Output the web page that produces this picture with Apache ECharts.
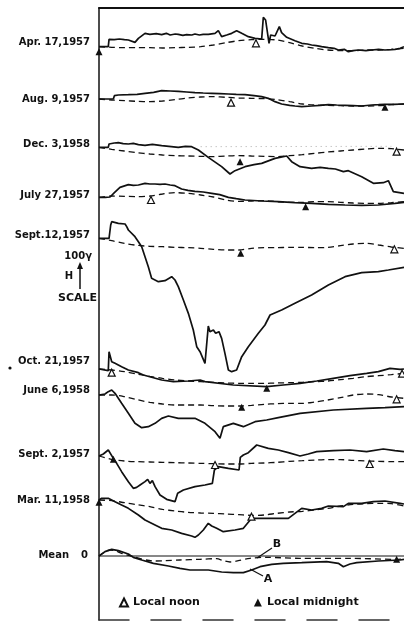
<!DOCTYPE html>
<html>
<head>
<meta charset="utf-8">
<script src="https://cdn.jsdelivr.net/npm/echarts@6/dist/echarts.min.js"></script>
<style>
html,body{margin:0;padding:0;background:#fff;}
#chart{width:404px;height:622px;}
</style>
</head>
<body>
<div id="chart"></div>
<script>
// time in hours from start of record, H in gamma (deviation from the start level of each day)
const hourly = [0,1,2,3,4,5,6,7,8,9,10,11,12,13,14,15,16,17,18,19,20,21,22,23,24];

const dayNames = ['Apr. 17,1957','Aug. 9,1957','Dec. 3,1958','July 27,1957','Sept.12,1957',
                  'Oct. 21,1957','June 6,1958','Sept. 2,1957','Mar. 11,1958','Mean'];
// where each day's zero sits on the stacked H axis (gamma)
const dayOffsets = [-140,-297,-442,-592,-715,-1107,-1185,-1368,-1500,-1668];

// storm day traces (solid)
const apr17T = [0,0.73,0.79,1.2,1.6,2.0,2.31,2.83,3.1,3.62,4.0,4.5,4.93,5.3,5.6,6.0,6.24,6.6,6.9,7.3,7.55,7.9,8.2,8.6,9.13,9.39,9.65,10.05,10.44,10.83,11.23,11.75,12.28,12.8,12.93,13.11,13.25,13.38,13.51,13.85,14.19,14.37,14.77,15.42,15.95,16.4,16.73,17.1,17.52,18.05,18.5,18.83,19.3,19.62,20.0,20.41,21.0,21.46,22.0,22.5,23.0,23.29,23.7,24];
const apr17H = [0,0,22,21,23,21,20,13,25,40,37,39,36,40,35,38,37,34,36,35,38,35,37,37,40,48,30,35,40,48,40,30,25,23,88,80,75,10,35,32,60,42,28,18,10,8,5,3,0,-3,-5,-10,-8,-15,-12,-10,-12,-10,-8,-10,-9,-8,-5,0];
const aug9T = [0,1.13,1.21,1.52,2.31,3.0,3.62,4.3,4.93,5.6,6.24,6.9,7.55,8.2,8.87,9.5,10.18,10.8,11.49,12.2,12.8,13.32,13.85,14.37,15.0,15.42,15.95,16.73,17.4,18.05,18.7,19.36,20.0,20.67,21.46,22.0,22.5,23.2,24];
const aug9H = [0,0,10,12,13,14,17,20,25,24,23,21,19,18,17,16,15,14,13,10,7,2,-8,-15,-19,-21,-23,-21,-19,-17,-18,-19,-20,-21,-18,-17,-16,-16,-15];
const dec3T = [0,0.73,0.79,1.2,1.52,1.9,2.31,2.7,3.1,3.62,4.2,4.93,5.5,6.24,6.8,7.29,7.82,8.6,9.65,10.31,10.7,11.49,12.2,12.8,13.85,14.77,15.16,15.82,16.73,17.4,18.05,18.6,19.23,19.62,20.67,21.59,22.37,22.77,23.16,24];
const dec3H = [0,0,10,13,14,11,10,12,8,6,9,5,3,0,3,2,-8,-30,-58,-80,-70,-58,-52,-48,-33,-26,-43,-58,-63,-60,-63,-65,-73,-70,-88,-108,-106,-100,-133,-138];
const jul27T = [0,0.5,0.87,1.21,1.65,2.31,2.7,3.1,3.62,4.0,4.41,4.8,5.19,5.6,5.98,6.5,7.0,7.55,8.2,8.87,9.5,10.18,10.8,11.49,12.8,14.11,15.42,16.73,18.05,19.36,20.67,21.98,23.29,24];
const jul27H = [0,0,1,14,30,38,36,37,42,40,40,39,40,37,35,25,21,18,16,12,8,0,-4,-8,-11,-13,-16,-18,-21,-23,-24,-23,-18,-15];
const sep12T = [0,0.79,0.92,1.0,1.52,2.05,2.18,2.31,2.83,3.1,3.36,3.62,3.88,4.14,4.67,5.19,5.72,5.98,6.24,6.64,7.03,7.42,7.69,7.95,8.34,8.6,8.73,9.0,9.18,9.44,9.65,9.91,10.18,10.44,10.83,11.23,11.75,12.54,13.06,13.46,14.37,15.42,16.73,18.05,19.36,20.67,21.98,22.77,24];
const sep12H = [0,0,40,50,45,43,35,25,5,-10,-25,-55,-85,-120,-130,-127,-115,-125,-145,-185,-225,-275,-325,-340,-375,-263,-280,-275,-285,-280,-300,-345,-395,-400,-395,-355,-325,-285,-260,-230,-215,-195,-170,-140,-115,-103,-100,-95,-87];
const oct21T = [0,0.73,0.79,0.89,1.0,1.13,1.26,1.52,1.78,2.31,3.1,3.49,4.93,5.85,7.03,7.95,8.34,10.57,13.19,14.5,15.82,17.13,18.44,19.75,21.06,21.98,22.9,23.69,24];
const oct21H = [0,-5,52,47,22,27,17,12,7,-3,-11,-18,-33,-38,-36,-33,-38,-48,-53,-48,-43,-36,-28,-20,-13,-8,2,-1,0];
const jun6T = [0,0.47,0.73,1.0,1.26,1.78,2.31,2.83,3.36,3.88,4.41,4.93,5.46,6.24,7.55,8.34,9.13,9.52,9.78,10.57,11.36,12.28,13.19,14.11,15.82,18.44,21.06,22.5,24];
const jun6H = [0,3,10,15,5,-25,-55,-85,-98,-95,-85,-70,-63,-70,-70,-85,-110,-130,-95,-85,-95,-80,-75,-68,-55,-45,-40,-38,-35];
const sep2T = [0,0.34,0.73,0.87,1.13,1.39,1.78,2.31,2.7,2.96,3.23,3.62,3.83,4.01,4.2,4.41,4.8,5.32,5.98,6.19,6.64,7.55,8.34,8.92,9.08,9.39,10.18,11.02,11.12,11.36,11.75,12.41,13.32,14.11,14.9,15.82,16.47,17.13,18.44,19.75,21.06,22.37,23.29,24];
const sep2H = [0,6,18,13,-7,-22,-47,-77,-97,-94,-87,-77,-70,-82,-74,-92,-117,-130,-137,-112,-102,-92,-87,-82,-42,-32,-37,-42,-4,3,10,33,23,18,10,0,6,13,16,18,13,21,16,13];
const mar11T = [0,0.21,0.73,1.26,1.78,2.31,3.1,3.62,4.41,4.93,5.72,6.5,7.29,7.55,7.82,8.21,8.6,8.87,9.26,9.78,10.7,11.36,12.01,13.32,14.9,15.42,15.95,16.73,17.52,18.05,19.23,19.62,20.67,21.59,22.5,23.69,24];
const mar11H = [0,5,5,-5,-15,-25,-45,-60,-75,-85,-90,-100,-108,-112,-105,-90,-70,-78,-85,-95,-90,-85,-55,-55,-55,-40,-25,-30,-25,-18,-20,-10,-10,-5,-3,-10,-12];

// quiet day curves (dashed), hourly
const apr17Quiet = [0,-2,-3,-3,-3,-4,-3,-2,0,5,12,18,21,22,20,12,2,-5,-10,-12,-12,-10,-10,-8,-5];
const aug9Quiet  = [0,-3,-5,-7,-8,-6,-2,3,6,7,5,3,2,1,-2,-8,-15,-18,-19,-20,-21,-21,-20,-17,-15];
const dec3Quiet  = [0,-6,-11,-16,-20,-23,-25,-26,-27,-28,-26,-25,-26,-27,-28,-25,-22,-18,-14,-11,-8,-5,-3,-4,-8];
const jul27Quiet = [0,4,3,2,4,10,14,12,7,1,-8,-12,-11,-10,-13,-15,-15,-13,-13,-15,-17,-18,-18,-16,-13];
const sep12Quiet = [0,-7,-15,-21,-24,-25,-27,-28,-30,-33,-35,-35,-30,-28,-28,-27,-27,-28,-27,-22,-17,-15,-20,-26,-30];
const oct21Quiet = [0,-3,-8,-15,-22,-28,-33,-36,-38,-40,-42,-43,-43,-43,-42,-41,-40,-38,-36,-32,-28,-23,-20,-17,-13];
const jun6Quiet  = [0,0,-5,-14,-22,-27,-30,-30,-30,-32,-33,-33,-31,-28,-26,-25,-25,-21,-15,-8,0,3,1,-6,-10];
const sep2Quiet  = [0,-10,-15,-17,-18,-19,-20,-21,-22,-23,-24,-24,-22,-21,-19,-16,-14,-12,-11,-11,-13,-15,-16,-17,-17];
const mar11Quiet = [0,-2,-8,-14,-20,-28,-33,-37,-39,-40,-42,-44,-46,-45,-40,-36,-34,-30,-25,-18,-13,-11,-10,-11,-18];

// faint dotted trace above Dec. 3
const dec3DotT = [8,23];
const dec3DotH = [2,3];

// mean curves
const meanAT = [0,0.47,1.0,1.52,2.31,2.7,3.36,4.28,5.46,6.37,7.16,8.6,9.65,10.57,11.36,12.01,12.67,13.59,14.5,15.95,17.91,18.83,19.23,19.75,20.28,21.98,23.69,24];
const meanAH = [0,13,20,16,6,-4,-12,-22,-30,-37,-42,-42,-48,-50,-50,-42,-32,-25,-22,-20,-17,-22,-32,-24,-20,-15,-12,-10];
const meanBT = [0,0.47,0.87,1.26,1.78,2.7,4.28,5.19,6.37,7.95,9.26,9.78,10.31,10.96,11.88,13.19,15.82,19.75,23.42,24];
const meanBH = [0,12,18,16,8,-2,-15,-14,-12,-10,-8,-14,-18,-14,-7,-4,-7,-7,-10,-8];

// local noon / local midnight markers: hour, day index, H
const noonHours = [12.35,10.39,23.42,4.09,23.24,1.0,23.85,23.42,9.13,21.3,12.0];
const noonDay   = [0,1,2,3,4,5,5,6,7,7,8];
const noonH     = [10,-11,-13,-8,-33,-11,-14,-13,-27,-24,-50];
const midHours  = [0,22.5,11.1,16.26,11.15,13.2,11.23,1.13,0,23.42];
const midDay    = [0,1,2,3,4,5,6,7,8,9];
const midH      = [-15,-25,-43,-28,-45,-58,-37,-10,-7,-10];

const ink = '#111';
const pts = (t, h, off) => t.map((x, i) => [x, off + h[i]]);

const storms = [
  [apr17T, apr17H, apr17Quiet],
  [aug9T, aug9H, aug9Quiet],
  [dec3T, dec3H, dec3Quiet],
  [jul27T, jul27H, jul27Quiet],
  [sep12T, sep12H, sep12Quiet],
  [oct21T, oct21H, oct21Quiet],
  [jun6T, jun6H, jun6Quiet],
  [sep2T, sep2H, sep2Quiet],
  [mar11T, mar11H, mar11Quiet]
];

const series = [];
storms.forEach((s, i) => {
  series.push({
    type: 'line', data: pts(s[0], s[1], dayOffsets[i]), showSymbol: false,
    lineStyle: { color: ink, width: 1.7 }, silent: true
  });
  series.push({
    type: 'line', data: pts(hourly, s[2], dayOffsets[i]), showSymbol: false, smooth: 0.3,
    lineStyle: { color: ink, width: 1.3, type: [6, 4] }, silent: true
  });
});
series.push({
  type: 'line', data: pts(dec3DotT, dec3DotH, dayOffsets[2]), showSymbol: false,
  lineStyle: { color: '#aaa', width: 1, type: [1, 4] }, silent: true
});
// mean: zero line, A (solid), B (dashed)
series.push({
  type: 'line', data: pts([0, 24], [0, 0], dayOffsets[9]), showSymbol: false,
  lineStyle: { color: ink, width: 1 }, silent: true
});
series.push({
  type: 'line', data: pts(meanAT, meanAH, dayOffsets[9]), showSymbol: false,
  lineStyle: { color: ink, width: 1.7 }, silent: true
});
series.push({
  type: 'line', data: pts(meanBT, meanBH, dayOffsets[9]), showSymbol: false, smooth: 0.3,
  lineStyle: { color: ink, width: 1.3, type: [6, 4] }, silent: true
});
series.push({
  name: 'Local noon', type: 'scatter', symbol: 'triangle', symbolSize: 7, clip: false, z: 5,
  itemStyle: { color: '#fff', borderColor: ink, borderWidth: 1.2, opacity: 1 },
  data: noonHours.map((x, i) => [x, dayOffsets[noonDay[i]] + noonH[i]])
});
series.push({
  name: 'Local midnight', type: 'scatter', symbol: 'triangle', symbolSize: 7, clip: false, z: 5,
  itemStyle: { color: ink, opacity: 1 },
  data: midHours.map((x, i) => [x, dayOffsets[midDay[i]] + midH[i]])
});

const labelFont = 'bold 10px "DejaVu Sans"';
const labelY = [42, 99, 144, 195.5, 235, 361.5, 390, 454, 500.5];
const graphic = dayNames.slice(0, 9).map((n, i) => ({
  type: 'text', x: 90, y: labelY[i],
  style: { text: n, font: labelFont, fill: ink, align: 'right', verticalAlign: 'middle' }
}));
graphic.push(
  { type: 'text', x: 69, y: 555.5, style: { text: 'Mean', font: labelFont, fill: ink, align: 'right', verticalAlign: 'middle' } },
  { type: 'text', x: 88, y: 555.5, style: { text: '0', font: labelFont, fill: ink, align: 'right', verticalAlign: 'middle' } },
  { type: 'text', x: 92, y: 256, style: { text: '100γ', font: labelFont, fill: ink, align: 'right', verticalAlign: 'middle' } },
  { type: 'text', x: 73, y: 276, style: { text: 'H', font: labelFont, fill: ink, align: 'right', verticalAlign: 'middle' } },
  { type: 'text', x: 97, y: 298, style: { text: 'SCALE', font: 'bold 11px "DejaVu Sans"', fill: ink, align: 'right', verticalAlign: 'middle' } },
  { type: 'line', shape: { x1: 80, y1: 289, x2: 80, y2: 267 }, style: { stroke: ink, lineWidth: 1.5 } },
  { type: 'polygon', shape: { points: [[80, 262], [77, 269], [83, 269]] }, style: { fill: ink } },
  { type: 'circle', shape: { cx: 10, cy: 368, r: 1.6 }, style: { fill: ink } },
  { type: 'text', x: 268, y: 579, style: { text: 'A', font: 'bold 11px "DejaVu Sans"', fill: ink, align: 'center', verticalAlign: 'middle' } },
  { type: 'text', x: 277, y: 544, style: { text: 'B', font: 'bold 11px "DejaVu Sans"', fill: ink, align: 'center', verticalAlign: 'middle' } },
  { type: 'polyline', shape: { points: [[263, 576], [250, 569]] }, style: { stroke: ink, lineWidth: 1.2 } },
  { type: 'polyline', shape: { points: [[272, 548], [257, 558]] }, style: { stroke: ink, lineWidth: 1.2 } }
);

const chart = echarts.init(document.getElementById('chart'));
chart.setOption({
  backgroundColor: '#fff',
  animation: false,
  grid: { left: 99, right: 0, top: 8, bottom: 2 },
  xAxis: [
    { type: 'value', min: 0, max: 24, position: 'top',
      axisLine: { show: true, onZero: false, lineStyle: { color: ink, width: 2 } },
      axisTick: { show: false }, axisLabel: { show: false }, splitLine: { show: false } },
    { type: 'value', min: 0, max: 24, position: 'bottom',
      axisLine: { show: true, onZero: false, lineStyle: { color: '#333', width: 1.5, type: [30, 22] } },
      axisTick: { show: false }, axisLabel: { show: false }, splitLine: { show: false } }
  ],
  yAxis: {
    type: 'value', min: -1860, max: -24,
    axisLine: { show: true, onZero: false, lineStyle: { color: ink, width: 1.5 } },
    axisTick: { show: false }, axisLabel: { show: false }, splitLine: { show: false }
  },
  legend: {
    data: ['Local noon', 'Local midnight'],
    left: 114, top: 592, itemWidth: 8, itemHeight: 8, itemGap: 54,
    textStyle: { fontFamily: 'DejaVu Sans', fontWeight: 'bold', fontSize: 11, color: ink }
  },
  graphic: graphic,
  series: series
});
</script>
</body>
</html>
